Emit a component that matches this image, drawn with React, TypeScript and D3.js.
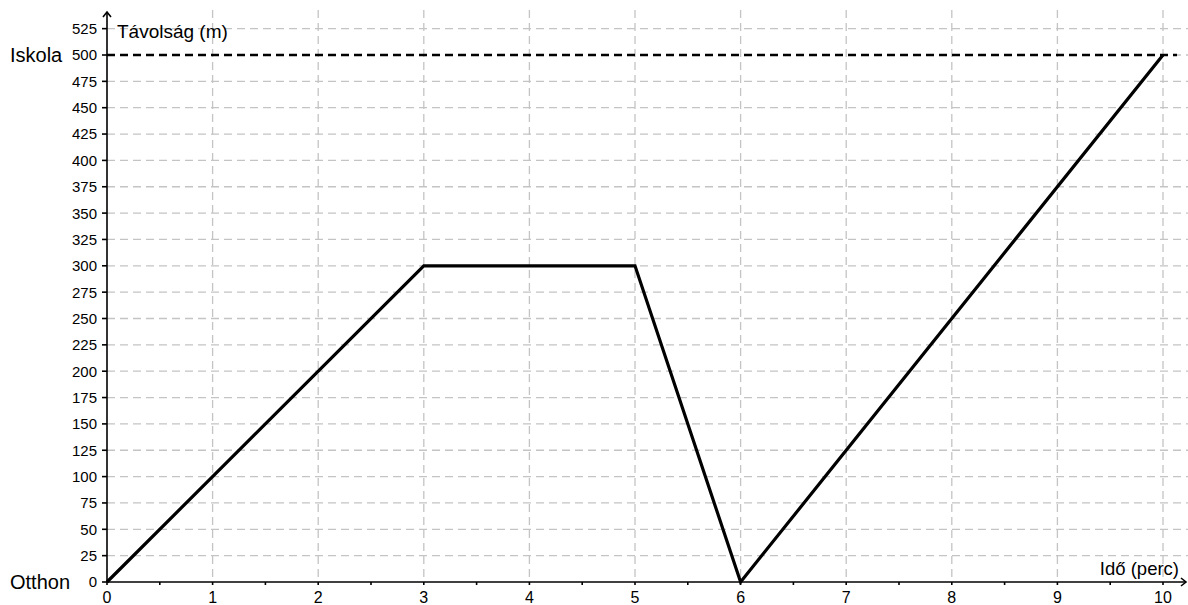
import React, { useEffect, useRef } from "react";
import * as d3 from "d3";

const times = [0, 3, 5, 6, 10];
const distances = [0, 300, 300, 0, 500];
const yTicks = d3.range(0, 550, 25);
const xTicks = d3.range(0, 11, 1);
const xMinorTicks = d3.range(0.5, 10.5, 1);
const schoolDistance = 500;

const W = 1188;
const H = 605;

const App: React.FC = () => {
  const ref = useRef<SVGSVGElement | null>(null);

  useEffect(() => {
    if (!ref.current) return;
    const svg = d3.select(ref.current);
    svg.selectAll("*").remove();

    const x = d3.scaleLinear().domain([0, 10]).range([107, 1163]);
    const y = d3.scaleLinear().domain([0, 500]).range([582, 55]);
    const font = "Liberation Sans, Arial, sans-serif";

    svg.append("rect").attr("width", W).attr("height", H).attr("fill", "#fff");

    // grid
    const grid = svg.append("g").attr("stroke", "#c4c4c4").attr("stroke-width", 1.3)
      .attr("stroke-dasharray", "8,5");
    grid.selectAll("line.h")
      .data(yTicks.filter((d) => d > 0))
      .enter()
      .append("line")
      .attr("x1", x(0))
      .attr("x2", W)
      .attr("y1", (d) => y(d))
      .attr("y2", (d) => y(d));
    grid.selectAll("line.v")
      .data(xTicks.filter((d) => d > 0))
      .enter()
      .append("line")
      .attr("x1", (d) => x(d))
      .attr("x2", (d) => x(d))
      .attr("y1", 10)
      .attr("y2", y(0));

    // school line
    svg.append("line")
      .attr("x1", x(0))
      .attr("x2", 1177)
      .attr("y1", y(schoolDistance))
      .attr("y2", y(schoolDistance))
      .attr("stroke", "#000")
      .attr("stroke-width", 2.6)
      .attr("stroke-dasharray", "8,5");

    // axes
    const ax = svg.append("g").attr("stroke", "#000").attr("stroke-width", 1.6).attr("fill", "none");
    ax.append("line").attr("x1", x(0)).attr("x2", 1186).attr("y1", y(0)).attr("y2", y(0));
    ax.append("line").attr("x1", x(0)).attr("x2", x(0)).attr("y1", y(0)).attr("y2", 12);
    ax.append("path").attr("d", `M${x(0) - 4},17 L${x(0)},12 L${x(0) + 4},17`);
    ax.append("path").attr("d", `M1181,${y(0) - 4} L1186,${y(0)} L1181,${y(0) + 4}`);

    ax.selectAll("line.yt")
      .data(yTicks)
      .enter()
      .append("line")
      .attr("x1", x(0) - 5)
      .attr("x2", x(0))
      .attr("y1", (d) => y(d))
      .attr("y2", (d) => y(d));
    ax.selectAll("line.xt")
      .data([...xTicks, ...xMinorTicks])
      .enter()
      .append("line")
      .attr("x1", (d) => x(d))
      .attr("x2", (d) => x(d))
      .attr("y1", y(0))
      .attr("y2", y(0) + 3);

    // tick labels
    svg.append("g")
      .selectAll("text")
      .data(yTicks)
      .enter()
      .append("text")
      .attr("x", 97)
      .attr("y", (d) => y(d))
      .attr("dy", "0.36em")
      .attr("text-anchor", "end")
      .attr("font-family", font)
      .attr("font-size", 15)
      .text((d) => d);

    svg.append("g")
      .selectAll("text")
      .data(xTicks)
      .enter()
      .append("text")
      .attr("x", (d) => x(d))
      .attr("y", 603)
      .attr("text-anchor", "middle")
      .attr("font-family", font)
      .attr("font-size", 16)
      .text((d) => d);

    // labels
    const label = (t: string, lx: number, ly: number, size: number) =>
      svg.append("text")
        .attr("x", lx)
        .attr("y", ly)
        .attr("dy", "0.36em")
        .attr("font-family", font)
        .attr("font-size", size)
        .text(t);
    label("Iskola", 10, y(schoolDistance), 20);
    label("Otthon", 10, y(0), 20);
    label("Távolság (m)", 117, 31, 19);
    svg.append("text")
      .attr("x", 1179)
      .attr("y", 575)
      .attr("text-anchor", "end")
      .attr("font-family", font)
      .attr("font-size", 18.5)
      .text("Idő (perc)");

    // data line
    const pts = times.map((t, i) => [t, distances[i]] as [number, number]);
    svg.append("path")
      .datum(pts)
      .attr("fill", "none")
      .attr("stroke", "#000")
      .attr("stroke-width", 3.2)
      .attr("stroke-linejoin", "miter")
      .attr("d", d3.line<[number, number]>().x((d) => x(d[0])).y((d) => y(d[1])));
  }, []);

  return (
    <svg
      ref={ref}
      width={W}
      height={H}
      style={{ position: "absolute", left: 0, top: 0 }}
    />
  );
};

export default App;
